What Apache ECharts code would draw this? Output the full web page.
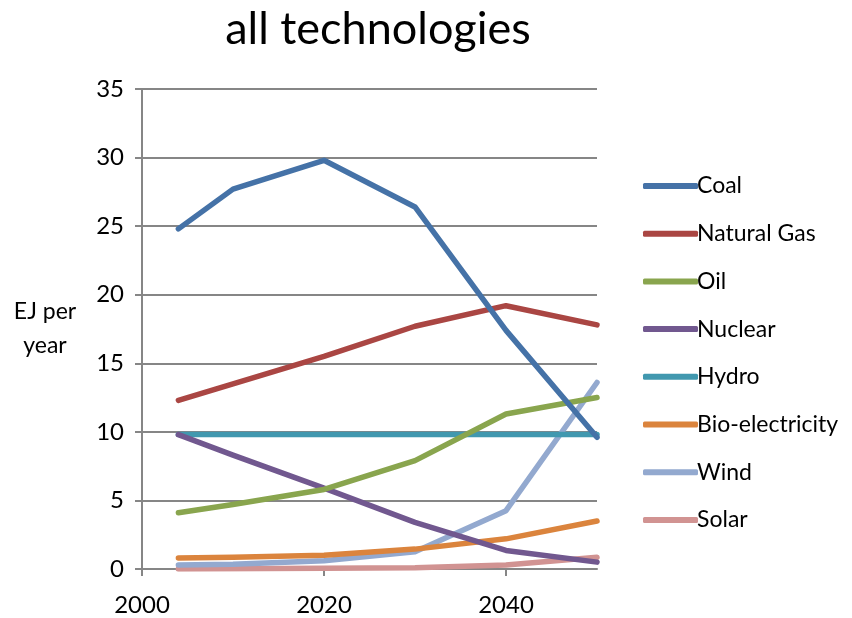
<!DOCTYPE html>
<html>
<head>
<meta charset="utf-8">
<script src="https://cdn.jsdelivr.net/npm/echarts@6/dist/echarts.min.js"></script>
<style>
  html, body { margin: 0; padding: 0; background: #fff; }
  #chart { width: 852px; height: 618px; }
</style>
</head>
<body>
<div id="chart"></div>
<script>
// Electricity generation by technology, EJ per year
const years = [2004, 2010, 2020, 2030, 2040, 2050];
const coal = [24.8, 27.7, 29.8, 26.4, 17.4, 9.6];
const naturalGas = [12.3, 13.5, 15.5, 17.7, 19.2, 17.8];
const oil = [4.1, 4.7, 5.8, 7.9, 11.3, 12.5];
const nuclear = [9.8, 8.3, 5.9, 3.4, 1.35, 0.5];
const hydro = [9.8, 9.8, 9.8, 9.8, 9.8, 9.8];
const bioElectricity = [0.8, 0.85, 1.0, 1.45, 2.2, 3.5];
const wind = [0.3, 0.35, 0.6, 1.25, 4.25, 13.6];
const solar = [0.0, 0.02, 0.05, 0.1, 0.3, 0.85];

const seriesNames = ['Coal', 'Natural Gas', 'Oil', 'Nuclear', 'Hydro', 'Bio-electricity', 'Wind', 'Solar'];
const seriesValues = [coal, naturalGas, oil, nuclear, hydro, bioElectricity, wind, solar];
const colors = ['#4572A7', '#AA4643', '#89A54E', '#71588F', '#4198AF', '#DB843D', '#93A9CF', '#D19392'];

const font = 'Lato, "Open Sans", sans-serif';

const chart = echarts.init(document.getElementById('chart'));
chart.setOption({
  animation: false,
  color: colors,
  title: {
    text: 'all technologies',
    left: 373,
    top: 2,
    textAlign: 'center',
    textStyle: { fontFamily: font, fontSize: 45, fontWeight: 'normal', color: '#000' }
  },
  legend: {
    orient: 'vertical',
    left: 638,
    top: 169,
    itemWidth: 55,
    itemHeight: 6,
    itemGap: 23.7,
    icon: 'roundRect',
    textStyle: { fontFamily: font, fontSize: 23, color: '#000', padding: [0, 0, 0, -6], lineHeight: 24 },
    data: seriesNames
  },
  grid: { left: 142, right: 255, top: 89, bottom: 49 },
  xAxis: {
    type: 'value',
    min: 2000,
    max: 2050,
    interval: 20,
    axisLine: { lineStyle: { color: '#868686', width: 2 } },
    axisTick: { show: true, length: 7, lineStyle: { color: '#868686', width: 2 } },
    axisLabel: { showMaxLabel: false, margin: 24, fontFamily: font, fontSize: 24, color: '#000', formatter: v => String(v) },
    splitLine: { show: false }
  },
  yAxis: {
    type: 'value',
    min: 0,
    max: 35,
    interval: 5,
    name: 'EJ per\nyear',
    nameLocation: 'middle',
    nameRotate: 0,
    nameGap: 97,
    nameTextStyle: { fontFamily: font, fontSize: 23, color: '#000', align: 'center', lineHeight: 34 },
    axisLine: { show: true, lineStyle: { color: '#868686', width: 2 } },
    axisTick: { show: true, length: 7, lineStyle: { color: '#868686', width: 2 } },
    axisLabel: { margin: 18, fontFamily: font, fontSize: 24, color: '#000' },
    splitLine: { lineStyle: { color: '#868686', width: 2 } }
  },
  series: seriesNames.map((name, i) => ({
    name: name,
    type: 'line',
    data: years.map((y, j) => [y, seriesValues[i][j]]),
    showSymbol: false,
    symbol: 'none',
    lineStyle: { width: 5.5, cap: 'round', join: 'round' },
    z: 10 - i
  }))
});
</script>
</body>
</html>
